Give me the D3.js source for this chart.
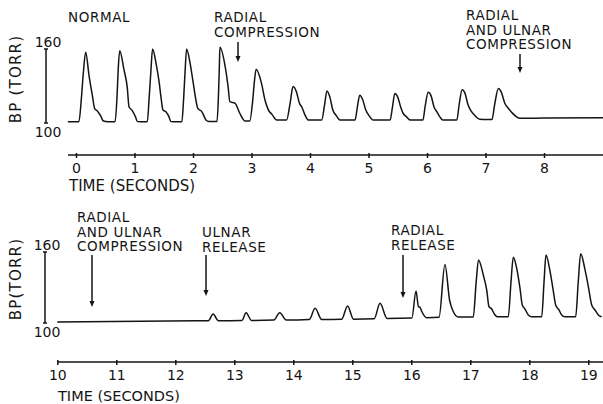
<!DOCTYPE html>
<html>
<head>
<meta charset="utf-8">
<script src="https://cdn.jsdelivr.net/npm/d3@7"></script>
<style>
  body { margin: 0; background: #fff; }
  svg { display: block; font-family: "DejaVu Sans", sans-serif; }
</style>
</head>
<body>
<svg></svg>
<script>
// time (s), pressure (torr)
const topTrace = [
    [-0.14, 101], [0.05, 101], [0.09, 118.7], [0.125, 140.5], [0.166, 157.4], [0.222, 138.7], [0.279, 122.5], [0.32, 111.6], [0.364, 109.8], [0.422, 105.7], [0.467, 101.6], [0.55, 101],
    [0.667, 101], [0.70, 120], [0.72, 142], [0.747, 158.6], [0.82, 143.2], [0.877, 128.5], [0.906, 113.2], [0.962, 110], [1.02, 104.6], [1.048, 101.2], [1.15, 101],
    [1.219, 101], [1.25, 120], [1.28, 142], [1.309, 160], [1.37, 148], [1.424, 132.2], [1.45, 122], [1.487, 110.5], [1.54, 109], [1.59, 105], [1.62, 101.2], [1.74, 101],
    [1.81, 101], [1.84, 120], [1.865, 142], [1.89, 160], [1.95, 148.6], [2.00, 133.7], [2.05, 118.6], [2.08, 112], [2.15, 109.2], [2.23, 102], [2.27, 101.2], [2.36, 101.2],
    [2.41, 101.2], [2.435, 122], [2.45, 145], [2.46, 161.4], [2.55, 145.8], [2.60, 129.5], [2.63, 117.3], [2.72, 116], [2.80, 107.9], [2.89, 101.6],
    [2.97, 101.6], [3.02, 118], [3.05, 134], [3.08, 143.6], [3.17, 132.3], [3.23, 118.6], [3.29, 110.5], [3.35, 107], [3.43, 102.4], [3.55, 102.4],
    [3.60, 102.4], [3.66, 116], [3.71, 129.5], [3.77, 125], [3.82, 116], [3.86, 113], [3.91, 107], [3.97, 102.5], [4.15, 102.4],
    [4.20, 102.4], [4.25, 115], [4.29, 126], [4.34, 121], [4.39, 110.5], [4.45, 106], [4.51, 102.4], [4.70, 102.4],
    [4.77, 102.4], [4.81, 113], [4.85, 122.5], [4.90, 119], [4.95, 111], [5.01, 106], [5.08, 102.4], [5.30, 102.4],
    [5.37, 102.4], [5.41, 113], [5.45, 124], [5.50, 121], [5.55, 113], [5.59, 108], [5.65, 105], [5.71, 102.4], [5.86, 102.4],
    [5.93, 102.4], [5.97, 114], [6.02, 125], [6.07, 122], [6.12, 113], [6.17, 109], [6.22, 105], [6.27, 102.4], [6.43, 102.4],
    [6.51, 102.4], [6.55, 115], [6.60, 127], [6.65, 124], [6.70, 115], [6.75, 110], [6.82, 106], [6.90, 103], [7.02, 102.8],
    [7.11, 102.8], [7.16, 116], [7.22, 128], [7.27, 125], [7.33, 116], [7.39, 112], [7.46, 108], [7.53, 105], [7.59, 103.8],
    [8.0, 104], [9.01, 104.2]
];

const bottomTrace = [
    [10.0, 100.8], [12.50, 101.9],
    [12.56, 101.9], [12.64, 107.6], [12.73, 101.9],
    [13.13, 102.2], [13.20, 108.7], [13.29, 102.2],
    [13.67, 102.5], [13.77, 108.7], [13.88, 102.5],
    [14.27, 103], [14.37, 112.4], [14.48, 103],
    [14.82, 103.2], [14.92, 114.4], [15.02, 103.2],
    [15.37, 103.5], [15.47, 116.6], [15.59, 103.8],
    [16.01, 104.2], [16.08, 127], [16.12, 114], [16.15, 113], [16.18, 109.5], [16.26, 104.5],
    [16.47, 104.8], [16.57, 149.5], [16.65, 119], [16.70, 111], [16.80, 105],
    [17.05, 105], [17.10, 135], [17.139, 153.2], [17.22, 140.6], [17.278, 127.9], [17.317, 113.8], [17.363, 111.8], [17.407, 107.6], [17.458, 105.3],
    [17.644, 105.3], [17.69, 135], [17.729, 155.6], [17.786, 146.3], [17.842, 129.4], [17.881, 115.3], [17.927, 111.8], [17.983, 106.8], [18.04, 105.3],
    [18.21, 105.3], [18.25, 135], [18.283, 157.4], [18.351, 143.9], [18.407, 127], [18.447, 115.3], [18.503, 111], [18.549, 106.8], [18.605, 105.3],
    [18.786, 105.3], [18.83, 135], [18.871, 158.6], [18.944, 145.1], [19.0, 131], [19.058, 115.3], [19.114, 111], [19.17, 106.8], [19.227, 105.3]
];

const topTicks = [0, 1, 2, 3, 4, 5, 6, 7, 8];
const bottomTicks = [10, 11, 12, 13, 14, 15, 16, 17, 18, 19];
const bpRange = [100, 160];

// annotations: text lines, left x, first baseline, arrow x, arrow y0, arrow y1
const topNotes = [
    { lines: ["NORMAL"], x: 68, y: 22 },
    { lines: ["RADIAL", "COMPRESSION"], x: 214, y: 22, ax: 238, a0: 42, a1: 62 },
    { lines: ["RADIAL", "AND ULNAR", "COMPRESSION"], x: 466, y: 20, ax: 520, a0: 54, a1: 73 }
];
const bottomNotes = [
    { lines: ["RADIAL", "AND ULNAR", "COMPRESSION"], x: 77, y: 222, ax: 92, a0: 255, a1: 307 },
    { lines: ["ULNAR", "RELEASE"], x: 202, y: 237, ax: 206, a0: 255, a1: 296 },
    { lines: ["RADIAL", "RELEASE"], x: 391, y: 235, ax: 403, a0: 255, a1: 298 }
];

const svgWidth = 603;
const svgHeight = 404;

let svg = d3.select("svg")
    .attr("width", svgWidth)
    .attr("height", svgHeight);

svg.append("rect").attr("width", svgWidth).attr("height", svgHeight).attr("fill", "#fff");

const ink = "#141414";

function drawPanel(cfg) {
    const x = d3.scaleLinear().domain(cfg.xDomain).range(cfg.xRange);
    const y = d3.scaleLinear().domain(bpRange).range(cfg.yRange);

    //trace
    const line = d3.line()
        .x(d => x(d[0]))
        .y(d => y(d[1]))
        .curve(d3.curveMonotoneX);

    svg.append("path")
        .datum(cfg.trace)
        .attr("d", line)
        .attr("fill", "none")
        .attr("stroke", ink)
        .attr("stroke-width", 1.5)
        .attr("stroke-linejoin", "round");

    //scale bar
    const g = svg.append("g");
    g.append("line")
        .attr("x1", cfg.barX).attr("x2", cfg.barX)
        .attr("y1", y(bpRange[1])).attr("y2", y(bpRange[0]))
        .attr("stroke", ink).attr("stroke-width", 1.5);
    bpRange.forEach(v => {
        g.append("line")
            .attr("x1", cfg.barX - 2).attr("x2", cfg.barX + 2)
            .attr("y1", y(v)).attr("y2", y(v))
            .attr("stroke", ink).attr("stroke-width", 1.5);
    });
    g.append("text")
        .attr("x", cfg.barX + 2).attr("y", y(160) - 2)
        .attr("text-anchor", "middle").attr("font-size", 14).attr("fill", ink)
        .text("160");
    g.append("text")
        .attr("x", cfg.barX + 2).attr("y", y(100) + 14)
        .attr("text-anchor", "middle").attr("font-size", 14).attr("fill", ink)
        .text("100");

    g.append("text")
        .attr("transform", `translate(21, ${cfg.labelY}) rotate(-90)`)
        .attr("text-anchor", "middle")
        .attr("font-size", 15)
        .attr("letter-spacing", 1.2)
        .attr("fill", ink)
        .text(cfg.yLabel);

    //time axis
    const axis = d3.axisBottom(x)
        .tickValues(cfg.ticks)
        .tickSize(3)
        .tickPadding(5)
        .tickFormat(d3.format("d"));

    const ax = svg.append("g")
        .attr("transform", `translate(0, ${cfg.axisY})`)
        .call(axis);
    ax.select(".domain").remove();
    ax.selectAll(".tick line").attr("stroke", ink).attr("stroke-width", 1.5).attr("y1", -2);
    ax.selectAll(".tick text")
        .attr("font-size", 14)
        .attr("font-family", "DejaVu Sans, sans-serif")
        .attr("fill", ink);

    svg.append("line")
        .attr("x1", cfg.axisStart).attr("x2", svgWidth)
        .attr("y1", cfg.axisY).attr("y2", cfg.axisY)
        .attr("stroke", ink).attr("stroke-width", 1.6);

    svg.append("text")
        .attr("x", cfg.axisStart + 1)
        .attr("y", cfg.axisY + cfg.titleDy)
        .attr("font-size", cfg.titleSize)
        .attr("fill", ink)
        .text("TIME (SECONDS)");

    //notes
    cfg.notes.forEach(n => {
        const t = svg.append("text")
            .attr("font-size", 13.5)
            .attr("letter-spacing", 0.6)
            .attr("fill", ink);
        n.lines.forEach((s, i) => {
            t.append("tspan").attr("x", n.x).attr("y", n.y + i * 14.5).text(s);
        });
        if (n.ax !== undefined) {
            svg.append("line")
                .attr("x1", n.ax).attr("x2", n.ax)
                .attr("y1", n.a0).attr("y2", n.a1 - 4)
                .attr("stroke", ink).attr("stroke-width", 1.5);
            svg.append("path")
                .attr("d", `M${n.ax - 2.5},${n.a1 - 6} L${n.ax + 2.5},${n.a1 - 6} L${n.ax},${n.a1} Z`)
                .attr("fill", ink);
        }
    });
}

drawPanel({
    trace: topTrace,
    xDomain: [0, 9], xRange: [76, 602.5],
    yRange: [123, 49],
    barX: 46, labelY: 79, yLabel: "BP (TORR)",
    ticks: topTicks, axisY: 155, axisStart: 68,
    titleDy: 36, titleSize: 15,
    notes: topNotes
});

drawPanel({
    trace: bottomTrace,
    xDomain: [10, 19], xRange: [57.3, 588.3],
    yRange: [323, 252],
    barX: 45, labelY: 279, yLabel: "BP(TORR)",
    ticks: bottomTicks, axisY: 362, axisStart: 57,
    titleDy: 39, titleSize: 14.5,
    notes: bottomNotes
});
</script>
</body>
</html>
